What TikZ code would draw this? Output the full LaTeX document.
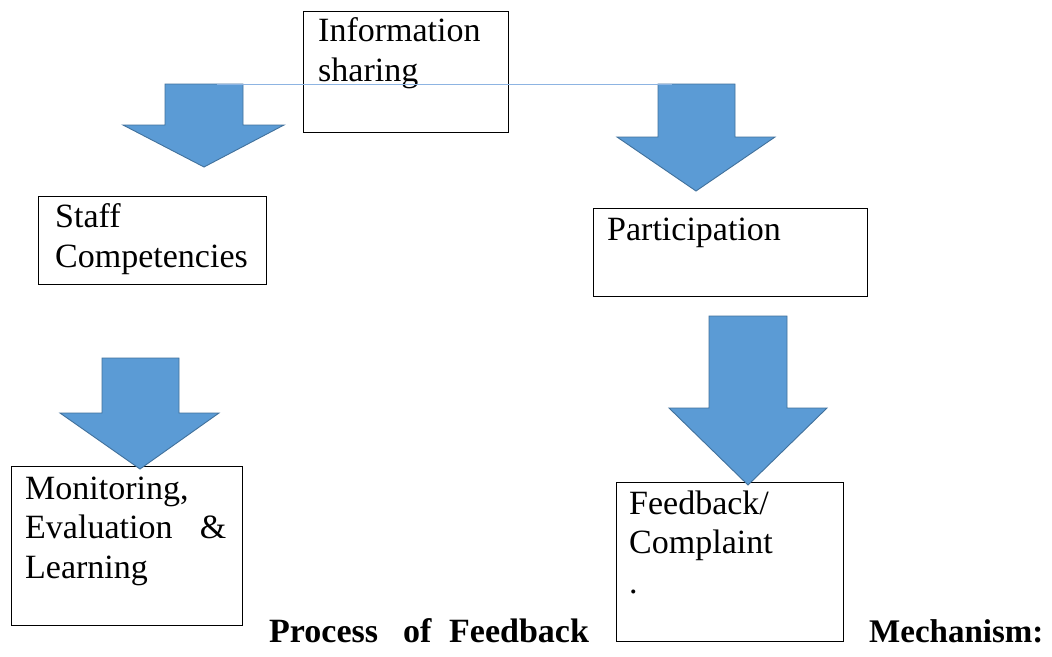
\documentclass[tikz,border=0pt]{standalone}
\usepackage{fontspec}
\setmainfont{Liberation Serif}
\begin{document}
\begin{tikzpicture}[x=1pt,y=-1pt,
  box/.style={draw=black,line width=1.3pt,rectangle,inner sep=0pt,anchor=north west},
  txt/.style={anchor=base west,inner sep=0pt,align=left,font=\fontsize{34}{39.5}\selectfont},
  btxt/.style={anchor=base west,inner sep=0pt,font=\fontsize{34}{39}\selectfont\bfseries},
  bigarrow/.style={fill=arrowfill,draw=arrowedge,line width=0.9pt,line join=miter},
  link/.style={draw=linkblue,line width=1pt}]
\definecolor{arrowfill}{HTML}{5B9BD5}
\definecolor{arrowedge}{HTML}{41719C}
\definecolor{linkblue}{HTML}{8DB4E2}
\useasboundingbox (0,0) rectangle (1052,656);
\fill[white] (0,0) rectangle (1052,656);

% boxes
\node[box,minimum width=205pt,minimum height=121pt] (info) at (303,11) {};
\node[box,minimum width=228pt,minimum height=88pt] (staff) at (38,196) {};
\node[box,minimum width=274pt,minimum height=88pt] (part) at (593,208) {};
\node[box,minimum width=231pt,minimum height=159pt] (mon) at (11,466) {};
\node[box,minimum width=227pt,minimum height=159pt] (feed) at (616,482) {};

% texts (anchor = baseline of last line)
\node[txt] (tinfo) at (318,81) {Information\\sharing};
\node[txt] (tstaff) at (55,267) {Staff\\Competencies};
\node[txt] (tpart) at (607,240) {Participation};
\node[txt] (tmon) at (25,578) {Monitoring,\\\hbox to 201pt{Evaluation\hfill\&}\\Learning};
\node[txt] (tfeed) at (629,593) {Feedback/\\Complaint\\.};

% big arrows
\draw[bigarrow] (165,84) -- (243,84) -- (243,125) -- (284,125) -- (204,167) -- (123,125) -- (165,125) -- cycle;
\draw[bigarrow] (658,84) -- (735,84) -- (735,137) -- (775,137) -- (696,191) -- (617,137) -- (658,137) -- cycle;
\draw[bigarrow] (102,358) -- (179,358) -- (179,413) -- (219,413) -- (140,469) -- (60,413) -- (102,413) -- cycle;
\draw[bigarrow] (709,316) -- (787,316) -- (787,408) -- (827,408) -- (748,485) -- (669,408) -- (709,408) -- cycle;

% thin connector line
\coordinate (l1) at (217,84.5);
\coordinate (l2) at (672,84.5);
\draw[link] (l1) -- (l2);

% caption words
\node[btxt] (w1) at (269,642) {Process};
\node[btxt] (w2) at (403,642) {of};
\node[btxt] (w3) at (449,642) {Feedback};
\node[btxt,font=\fontsize{33}{39}\selectfont\bfseries] (w4) at (869,642) {Mechanism:};
\end{tikzpicture}
\end{document}
